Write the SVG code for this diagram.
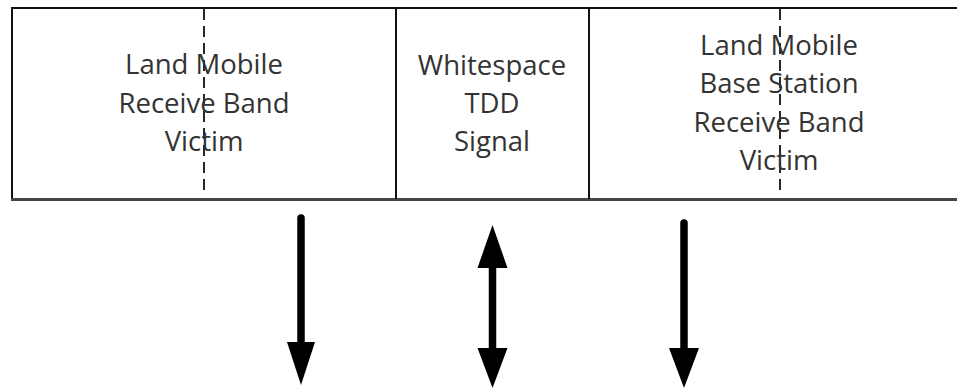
<svg xmlns="http://www.w3.org/2000/svg" width="957" height="388" viewBox="0 0 957 388">
<style>
.frame{fill:none;stroke:#111;stroke-width:2}
.dash{stroke:#111;stroke-width:1.8;stroke-dasharray:11 6;fill:none}
.lbl{font-family:"Open Sans","Liberation Sans",sans-serif;font-size:27.5px;fill:#333;text-anchor:middle}
.shaft{stroke:#000;stroke-width:7.5;stroke-linecap:round;fill:none}
.head{fill:#000}
</style>
<rect width="957" height="388" fill="#fff"/>
<g id="band-frame">
<line class="frame" x1="12" y1="8" x2="957" y2="8"/>
<line class="frame" x1="12" y1="7" x2="12" y2="200"/>
<line x1="11" y1="199.5" x2="957" y2="199.5" stroke="#444" stroke-width="3"/>
</g>
<g id="land-mobile-receive">
<line class="frame" x1="396" y1="8" x2="396" y2="199"/>
<line class="dash" x1="204" y1="9" x2="204" y2="193"/>
<text class="lbl" x="204" y="74">Land Mobile</text>
<text class="lbl" x="204" y="112.5">Receive Band</text>
<text class="lbl" x="204" y="151">Victim</text>
</g>
<g id="whitespace-tdd">
<line class="frame" x1="589" y1="8" x2="589" y2="199"/>
<text class="lbl" x="492" y="75">Whitespace</text>
<text class="lbl" x="492" y="113">TDD</text>
<text class="lbl" x="492" y="151">Signal</text>
</g>
<g id="base-station-receive">
<line class="dash" x1="780" y1="9" x2="780" y2="193"/>
<text class="lbl" x="779" y="55">Land Mobile</text>
<text class="lbl" x="779" y="93">Base Station</text>
<text class="lbl" x="779" y="131.5">Receive Band</text>
<text class="lbl" x="779" y="170">Victim</text>
</g>
<g id="connectors">
<line class="shaft" x1="301" y1="218" x2="301" y2="345"/>
<polygon class="head" points="287,342 315,342 301,385"/>
<line class="shaft" x1="492.5" y1="265" x2="492.5" y2="350"/>
<polygon class="head" points="477.5,268 507.5,268 492.5,225"/>
<polygon class="head" points="477.5,348 507.5,348 492.5,388"/>
<line class="shaft" x1="684" y1="223" x2="684" y2="350"/>
<polygon class="head" points="669,348 699,348 684,388"/>
</g>
</svg>
